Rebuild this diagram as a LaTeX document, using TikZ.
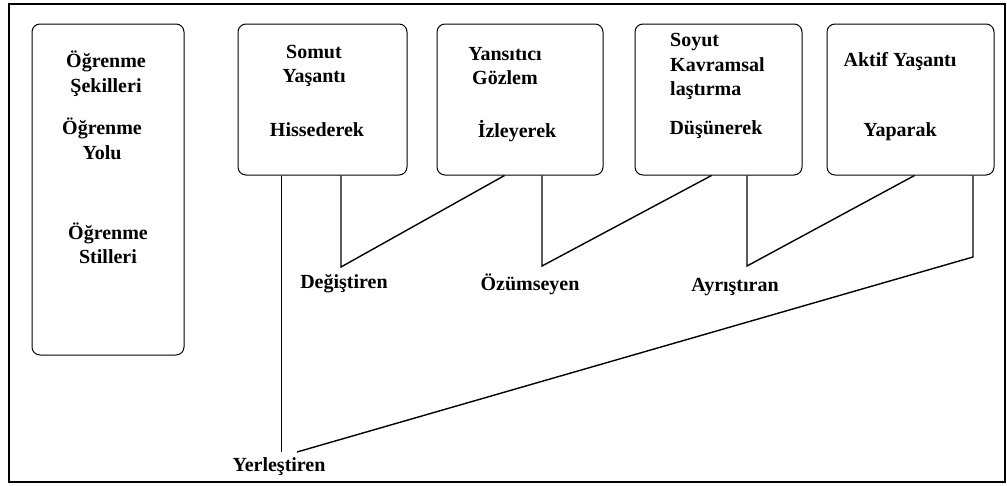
\documentclass[tikz,border=0pt]{standalone}
\usepackage{fontspec}
\setmainfont{Liberation Serif}
\usepackage{tikz}
\usetikzlibrary{calc}

\begin{document}
\begin{tikzpicture}[x=1pt, y=-1pt,
    kutu/.style={draw, line width=1pt, rounded corners=8pt, inner sep=0pt},
    yazi/.style={font=\bfseries\fontsize{20}{24.5}\selectfont, inner sep=0pt, align=center},
    bag/.style={line width=1.4pt},
    ince/.style={line width=0.9pt}]

    % 1. Page size and the outer frame
    \useasboundingbox (0,0) rectangle (1007,485);
    \draw[line width=1.3pt] (9,4) rectangle (1005,482);

    % 2. The five rounded boxes
    \node[kutu, minimum width=152, minimum height=331] (sol) at (108,189.5) {};
    \node[kutu, minimum width=169, minimum height=151] (b1) at (322.5,99.5) {};
    \node[kutu, minimum width=166, minimum height=151] (b2) at (520,99.5) {};
    \node[kutu, minimum width=167, minimum height=151] (b3) at (718.5,99.5) {};
    \node[kutu, minimum width=167, minimum height=151] (b4) at (910.5,99.5) {};

    % 3. Texts of the left box
    \node[yazi] (sekil) at (106,73.5) {Öğrenme\\Şekilleri};
    \node[yazi] (yol) at (102,139) {Öğrenme\\Yolu};
    \node[yazi] (stil) at (108,243.5) {Öğrenme\\Stilleri};

    % 4. Texts of the four boxes
    \node[yazi] (somut) at (314,66) {Somut\\Yaşantı};
    \node[yazi] (hisse) at (317,130) {Hissederek};
    \node[yazi] (yansi) at (505,66) {Yansıtıcı\\Gözlem};
    \node[yazi] (izle) at (517,131) {İzleyerek};
    \node[yazi, align=left, anchor=west] (soyut) at (670,66.5) {Soyut\\Kavramsal\\laştırma};
    \node[yazi] (dusun) at (716,130) {Düşünerek};
    \node[yazi] (aktif) at (900,62) {Aktif Yaşantı};
    \node[yazi] (yapar) at (900,132) {Yaparak};

    % 5. Bend points of the connectors
    \coordinate (k0) at (281,452);
    \coordinate (k1) at (341,267);
    \coordinate (k2) at (542,266);
    \coordinate (k3) at (747,266);
    \coordinate (k4) at (973,257);
    \coordinate (k5) at (297,452);

    % 6. Styles below the boxes
    \node[yazi] (degis) at (344,284) {Değiştiren};
    \node[yazi] (ozum) at (530,284) {Özümseyen};
    \node[yazi] (ayris) at (735,287) {Ayrıştıran};
    \node[yazi] (yerles) at (279,467) {Yerleştiren};

    % 7. Connectors
    \draw[bag] (k1 |- b1.south) -- (k1) -- ($(b2.south west)+(68,0)$);
    \draw[bag] (k2 |- b2.south) -- (k2) -- ($(b3.south west)+(77,0)$);
    \draw[bag] (k3 |- b3.south) -- (k3) -- ($(b4.south west)+(88,0)$);
    \draw[bag] (k4 |- b4.south) -- (k4) -- (k5);
    \draw[ince] (k0 |- b1.south) -- (k0);

\end{tikzpicture}
\end{document}
